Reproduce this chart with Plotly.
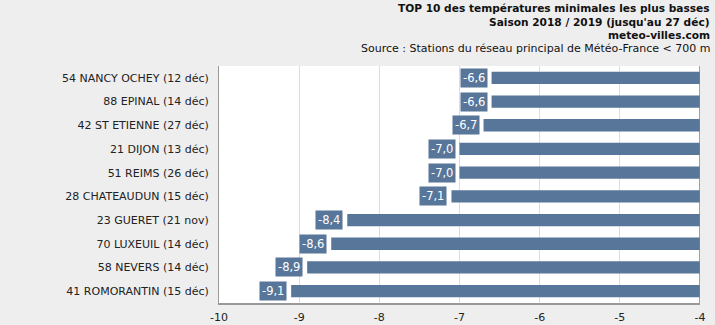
import plotly.graph_objects as go

stations = ["54 NANCY OCHEY (12 déc)", "88 EPINAL (14 déc)", "42 ST ETIENNE (27 déc)",
            "21 DIJON (13 déc)", "51 REIMS (26 déc)", "28 CHATEAUDUN (15 déc)",
            "23 GUERET (21 nov)", "70 LUXEUIL (14 déc)", "58 NEVERS (14 déc)",
            "41 ROMORANTIN (15 déc)"]
tmin = [-6.6, -6.6, -6.7, -7.0, -7.0, -7.1, -8.4, -8.6, -8.9, -9.1]
xticks = [-10, -9, -8, -7, -6, -5, -4]

BAR = "#57769a"
FONT = "DejaVu Sans"
L, R, T, B = 219, 700, 66, 303

fig = go.Figure()
fig.add_trace(go.Bar(
    y=stations, x=[v - (-4) for v in tmin], base=-4, orientation="h",
    marker=dict(color=BAR, line=dict(width=0)), width=0.52,
    hoverinfo="skip"))

for s, v in zip(stations, tmin):
    fig.add_annotation(x=v, y=s, xref="x", yref="y", text=f"{v:.1f}".replace(".", ","),
                       showarrow=False, xanchor="right", xshift=-4,
                       bgcolor=BAR, borderpad=2,
                       font=dict(family=FONT, size=11.5, color="white"))

fig.add_shape(type="line", xref="x", yref="paper", x0=-4, x1=-4, y0=0, y1=1,
              line=dict(color="#808080", width=1.5))

titles = [("<b>TOP 10 des températures minimales les plus basses</b>", 8, 10.6),
          ("<b>Saison 2018 / 2019 (jusqu'au 27 déc)</b>", 22, 10.6),
          ("<b>meteo-villes.com</b>", 35, 10.6),
          ("Source : Stations du réseau principal de Météo-France < 700 m", 48, 11)]
for t, yp, fs in titles:
    fig.add_annotation(x=(712 - L) / (R - L), y=1 + (T - yp) / (B - T),
                       xref="paper", yref="paper", text=t, showarrow=False,
                       xanchor="right", yanchor="middle",
                       font=dict(family=FONT, size=fs, color="#111111"))

fig.update_layout(
    width=715, height=325,
    margin=dict(l=L, r=715 - R, t=T, b=325 - B),
    paper_bgcolor="#eeeeee", plot_bgcolor="white",
    showlegend=False, bargap=0.48,
    font=dict(family=FONT, size=11, color="#333333"),
    xaxis=dict(range=[-10, -4], tickvals=xticks, ticktext=[str(t) for t in xticks],
               showgrid=True, gridcolor="#dddddd", gridwidth=1, automargin=False,
               showline=True, linecolor="#999999", linewidth=1.5,
               zeroline=False, ticks="", ticklabelstandoff=3,
               tickfont=dict(size=11, color="#222222")),
    yaxis=dict(autorange="reversed", showgrid=False, showline=True, linecolor="#999999",
               linewidth=1, ticks="", ticksuffix="  ", automargin=False,
               tickfont=dict(size=11, color="#222222")),
)

fig.write_html("out.html")
